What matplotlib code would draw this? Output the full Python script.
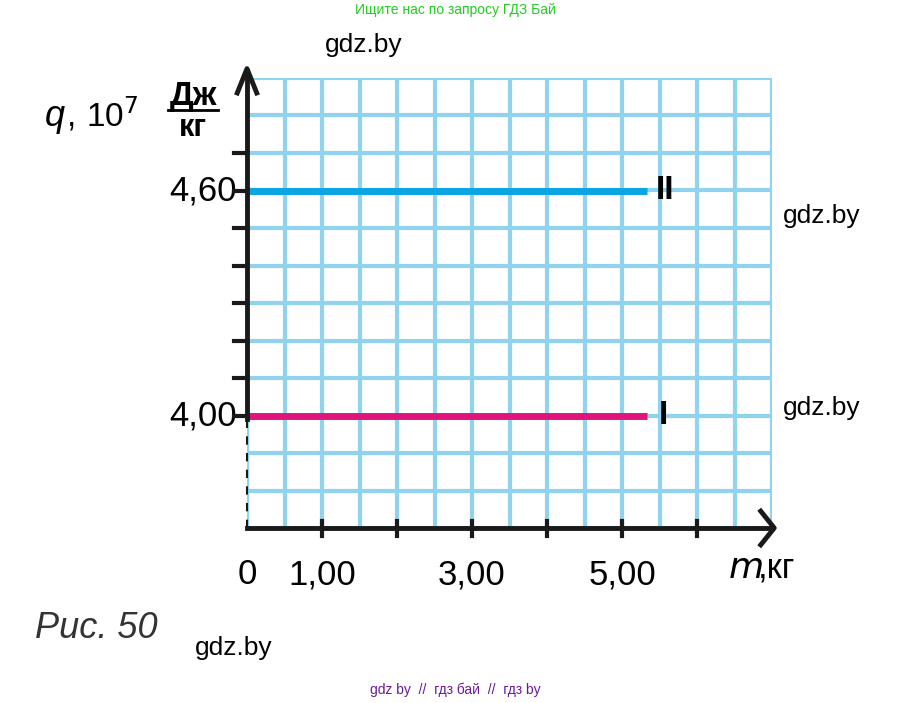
import matplotlib
matplotlib.use('Agg')
import matplotlib.pyplot as plt

plt.rcParams['font.family'] = ['Liberation Sans', 'DejaVu Sans']

# data
m_end = 5.33
q_values = [4.00, 4.60]
q_colors = ['#e0147c', '#0aa5e3']
q_names = ['I', 'II']
x_ticklabels = ['0', '1,00', '3,00', '5,00']
x_tickpos = [0, 1, 3, 5]
y_ticklabels = ['4,00', '4,60']

W, H = 911, 703
fig = plt.figure(figsize=(W / 100, H / 100), dpi=100)
ax = fig.add_axes([247 / W, (H - 528) / H, 525 / W, 450 / H])
ax.set_xlim(0, 7)
ax.set_ylim(3.7, 4.9)
for s in ax.spines.values():
    s.set_visible(False)
ax.set_xticks([])
ax.set_yticks([])

grid_c = '#8fd3ef'
for i in range(15):
    ax.axvline(i * 0.5, color=grid_c, lw=3, zorder=1)
for j in range(13):
    ax.axhline(3.7 + j * 0.1, color=grid_c, lw=3, zorder=1)

for q, c in zip(q_values, q_colors):
    ax.plot([0, m_end], [q, q], color=c, lw=5, solid_capstyle='butt', zorder=3)
ax.text(5.57, 4.60, 'II', fontsize=24, fontweight='bold', va='center', ha='center')
ax.text(5.55, 4.00, 'I', fontsize=24, fontweight='bold', va='center', ha='center')

# axes with arrows
kw = dict(color='#1a1a1a', lw=3.5, clip_on=False, zorder=5)
ax.plot([0, 7.0], [3.7, 3.7], **kw)
ax.plot([0, 0], [3.99, 4.92], **kw)
ax.plot([0, 0], [3.7, 3.99], color='#1a1a1a', lw=1.5, ls=(0, (4, 4)), clip_on=False, zorder=5)
ax.plot([6.85, 7.03, 6.85], [3.745, 3.7, 3.655], color='#1a1a1a', lw=3.5,
        clip_on=False, zorder=5, solid_joinstyle='round')
ax.plot([-0.13, 0, 0.13], [4.86, 4.925, 4.86], color='#1a1a1a', lw=3.5,
        clip_on=False, zorder=5, solid_joinstyle='round')

for j in range(8):
    y = 4.0 + j * 0.1
    ax.plot([-0.17, 0], [y, y], color='#1a1a1a', lw=3, clip_on=False, zorder=5)
for x in range(1, 7):
    ax.plot([x, x], [3.68, 3.72], color='#1a1a1a', lw=3, clip_on=False, zorder=5)

for x, t in zip(x_tickpos, x_ticklabels):
    ax.text(x, 3.575, t, fontsize=25, ha='center', va='center', clip_on=False)
for y, t in zip(q_values, y_ticklabels):
    ax.text(-0.14, y, t, fontsize=25, ha='right', va='center', clip_on=False)

# axis titles
fig.text(728 / W, 1 - 568 / H, r'$m$', fontsize=26, ha='left', va='center')
fig.text(758 / W, 1 - 568 / H, ',кг', fontsize=25, ha='left', va='center')
fig.text(45 / W, 1 - 117 / H, 'q', fontsize=26, style='italic', ha='left', va='center')
fig.text(67 / W, 1 - 117 / H, ',', fontsize=24, ha='left', va='center')
fig.text(86 / W, 1 - 117 / H, r'10$^7$', fontsize=24, ha='left', va='center')
fig.text(193 / W, 1 - 96 / H, 'Дж', fontsize=24, fontweight='bold', ha='center', va='center')
fig.text(193 / W, 1 - 128 / H, 'кг', fontsize=22, fontweight='bold', ha='center', va='center')
fig.add_artist(plt.Line2D([168 / W, 218 / W], [1 - 110 / H, 1 - 110 / H], color='black', lw=2))

fig.text(35 / W, 1 - 628 / H, 'Рис. 50', fontsize=26, style='italic', color='#333333',
         ha='left', va='center')
fig.text(195 / W, 1 - 648 / H, 'gdz.by', fontsize=19, ha='left', va='center')
fig.text(325 / W, 1 - 45 / H, 'gdz.by', fontsize=19, ha='left', va='center')
fig.text(783 / W, 1 - 216 / H, 'gdz.by', fontsize=19, ha='left', va='center')
fig.text(783 / W, 1 - 408 / H, 'gdz.by', fontsize=19, ha='left', va='center')
fig.text(455 / W, 1 - 10 / H, 'Ищите нас по запросу ГДЗ Бай', fontsize=10, color='#22cc22',
         ha='center', va='center')
fig.text(455 / W, 1 - 690 / H, 'gdz by  //  гдз бай  //  гдз by', fontsize=10, color='#6a1a9a',
         ha='center', va='center')

fig.savefig('out.png', dpi=100)
